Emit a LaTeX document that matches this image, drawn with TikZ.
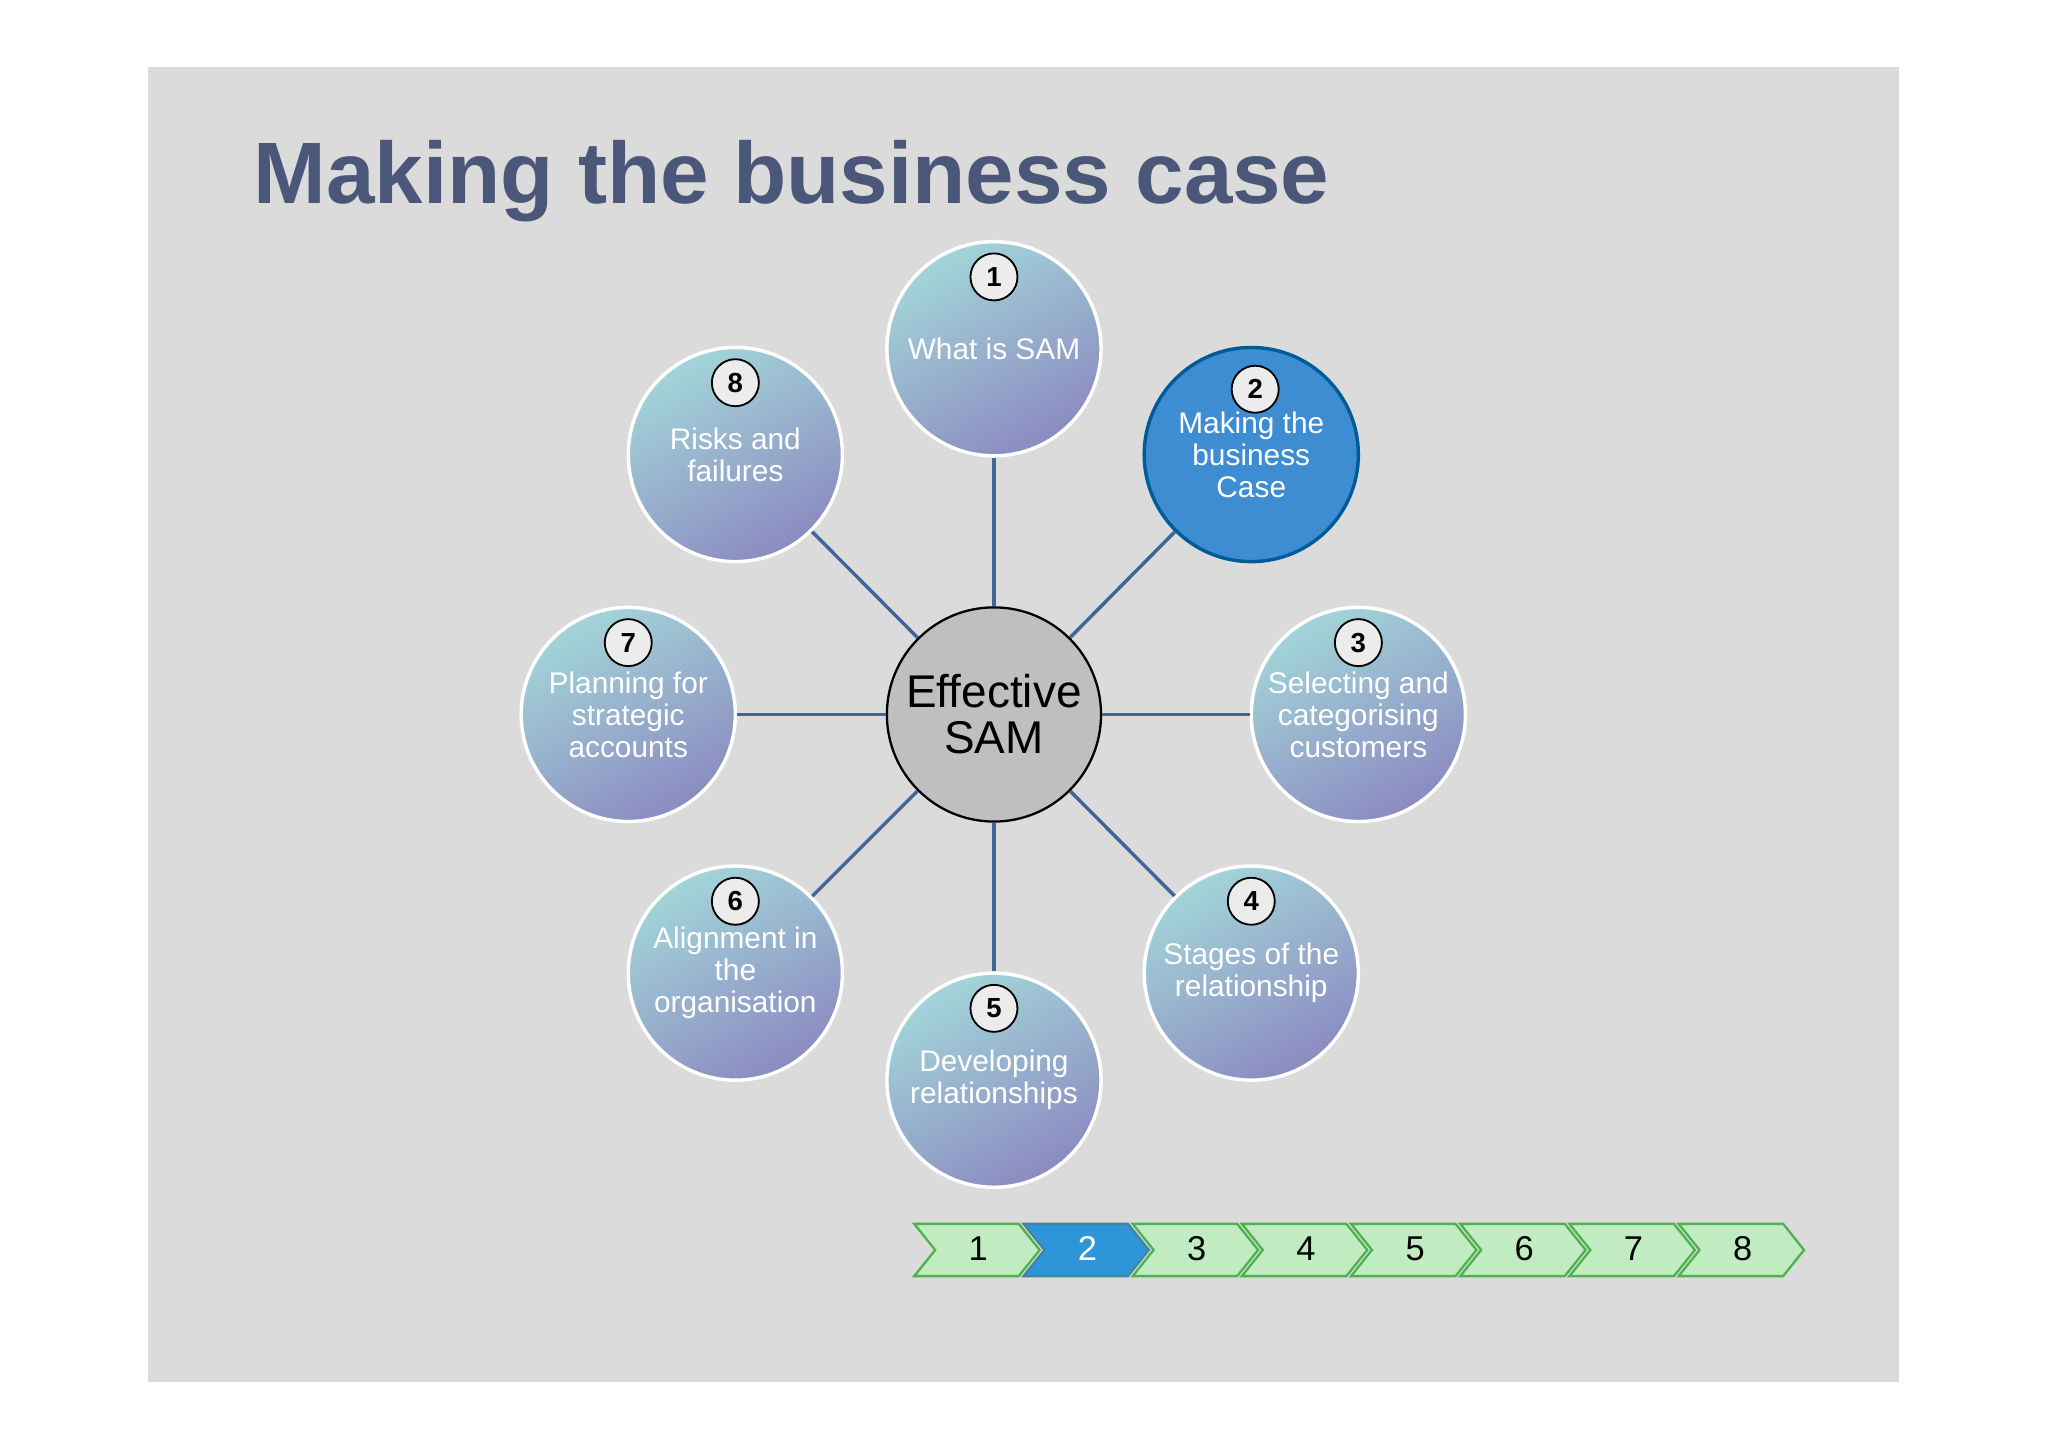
\documentclass[tikz,border=0pt]{standalone}
\usepackage{fontspec}
\setmainfont{Liberation Sans}
\begin{document}
\begin{tikzpicture}[x=0.02cm,y=-0.02cm,
  sat/.style={circle,minimum size=3.28cm,inner sep=0pt,draw=white,line width=1.5pt,
    top color=blue!8!cyan!25!white!85!black, bottom color=blue!30!gray!70!white,shading angle=30},
  sel/.style={circle,minimum size=3.28cm,inner sep=0pt,draw=blue!40!cyan!60!black,line width=1.5pt,fill=cyan!60!blue!80!white},
  lbl/.style={text=white,font=\fontsize{13}{14}\selectfont,align=center},
  badge/.style={circle,minimum size=0.72cm,inner sep=0pt,draw=black,line width=0.8pt,fill=gray!15,font=\bfseries\fontsize{12}{12}\selectfont},
  spoke/.style={draw=cyan!50!blue!70!black,line width=1.5pt},
  chev/.style={fill=green!20!white!85!gray,draw=green!40!gray,line width=1pt},
  chevsel/.style={fill=cyan!70!blue!85!white,draw=cyan!60!black,line width=1pt}]
\fill[white] (0,0) rectangle (1568,1110);
\fill[gray!28] (113,51) rectangle (1454,1058);
\node[anchor=west,text=cyan!40!blue!50!black,font=\bfseries\fontsize{38}{38}\selectfont] (title) at (188,139) {Making the business case};
\node[circle,minimum size=3.28cm,inner sep=0pt,draw=black,line width=1pt,fill=gray!50,font=\fontsize{20}{20}\selectfont,align=center] (c) at (761,547) {Effective\\SAM};
\foreach \n/\x/\y/\t in {1/761/267/{What is SAM},3/1040/547/{Selecting and\\categorising\\customers},4/958/745/{Stages of the\\relationship},5/761/827/{Developing\\relationships},6/563/745/{Alignment in\\the\\organisation},7/481/547/{Planning for\\strategic\\accounts},8/563/348/{Risks and\\failures}}{
  \node[sat] (s\n) at (\x,\y) {};
  \node[lbl] (t\n) at (\x,\y) {\t};
  \node[badge] (b\n) at (\x,\y-55) {\n};
}
\node[sel] (s2) at (958,348) {};
\node[lbl] (t2) at (958,348) {Making the\\business\\Case};
\node[badge] (b2) at (961,298) {2};
\foreach \n in {1,...,8}{\path[spoke] (c) -- (s\n);}
\foreach \i in {1,...,8}{
  \pgfmathsetmacro\xo{700+83.6*(\i-1)}
  \ifnum\i=2 \def\st{chevsel}\def\tc{white}\else\def\st{chev}\def\tc{black}\fi
  \path[\st] (\xo,937) -- (\xo+80,937) -- (\xo+96,957) -- (\xo+80,977) -- (\xo,977) -- (\xo+16,957) -- cycle;
  \node[font=\fontsize{15}{15}\selectfont,text=\tc] (k\i) at (\xo+49,956) {\i};
}
\end{tikzpicture}
\end{document}
